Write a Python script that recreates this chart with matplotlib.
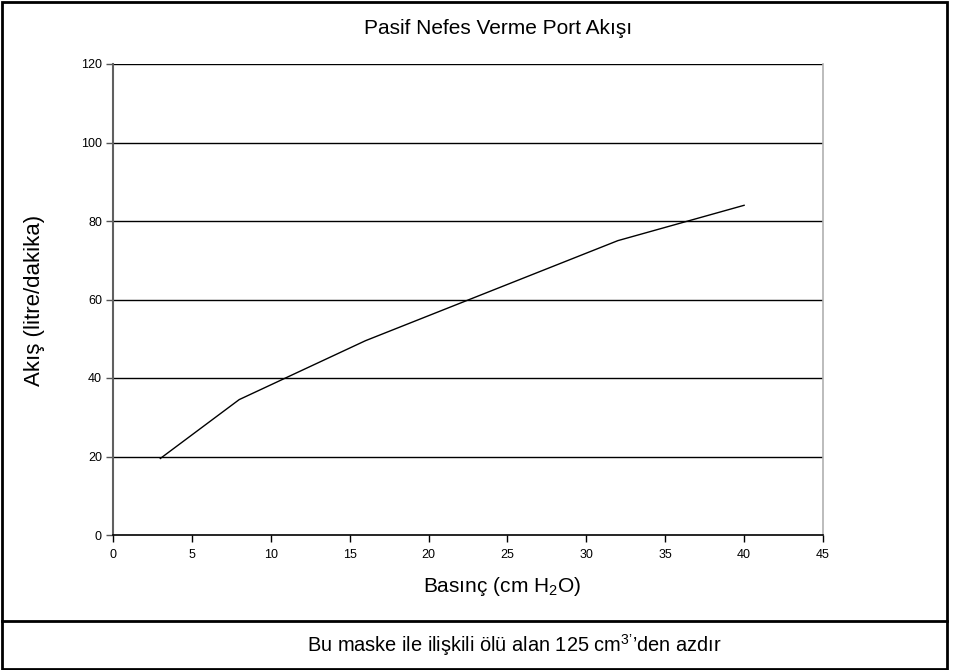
import matplotlib
matplotlib.use("Agg")
import matplotlib.pyplot as plt
from matplotlib.patches import Rectangle
from matplotlib.lines import Line2D

plt.rcParams['font.family'] = ['Liberation Sans', 'DejaVu Sans']
plt.rcParams['mathtext.fontset'] = 'custom'
plt.rcParams['mathtext.rm'] = 'Liberation Sans'
plt.rcParams['mathtext.it'] = 'Liberation Sans'
plt.rcParams['mathtext.bf'] = 'Liberation Sans:bold'

# pressure (cm H2O) vs. flow (litre/min)
basinc = [3, 8, 16, 32, 40]
akis = [19.5, 34.5, 49.5, 75, 84]
x_ticks = [0, 5, 10, 15, 20, 25, 30, 35, 40, 45]
y_ticks = [0, 20, 40, 60, 80, 100, 120]

W, H = 956, 670
fig = plt.figure(figsize=(W / 100, H / 100), dpi=100)
ax = fig.add_axes([113 / W, 1 - 535 / H, (823 - 113) / W, (535 - 64) / H])

for v in y_ticks[1:]:
    ax.axhline(v, color='black', lw=1.0, zorder=1)
ax.plot(basinc, akis, color='black', lw=1.0, zorder=3)

ax.set_xlim(0, 45)
ax.set_ylim(0, 120)
ax.set_xticks(x_ticks)
ax.set_yticks(y_ticks)
ax.tick_params(axis='both', labelsize=9, length=5, width=1.0, direction='out',
               colors='#555555', labelcolor='black', pad=3)
ax.tick_params(axis='x', colors='black', labelcolor='black', pad=5)

ax.spines['left'].set_color('#606060')
ax.spines['left'].set_linewidth(1.5)
ax.spines['bottom'].set_color('black')
ax.spines['bottom'].set_linewidth(1.2)
ax.spines['right'].set_color('#b0b0b0')
ax.spines['right'].set_linewidth(1.2)
ax.spines['top'].set_visible(False)

# titles and axis labels placed in figure pixels
fig.text(498 / W, 1 - 28 / H, 'Pasif Nefes Verme Port Akışı', fontsize=15,
         ha='center', va='center')
fig.text(502 / W, 1 - 586 / H, r'Basınç (cm H$\mathregular{_2}$O)', fontsize=15,
         ha='center', va='center')
fig.text(35 / W, 1 - 300 / H, 'Akış (litre/dakika)', fontsize=16,
         ha='center', va='center', rotation=90)
fig.text(514 / W, 1 - 645 / H,
         r"Bu maske ile ilişkili ölü alan 125 cm$^{\mathregular{3’}}$’den azdır",
         fontsize=14.4, ha='center', va='center')

# outer frame and footer separator
fig.patches.append(Rectangle((1.5 / W, 1 - 668.5 / H), 945 / W, 667 / H,
                             transform=fig.transFigure, fill=False,
                             edgecolor='black', lw=2))
fig.lines.append(Line2D([1.5 / W, 946.5 / W], [1 - 620.5 / H, 1 - 620.5 / H],
                        transform=fig.transFigure, color='black', lw=2))

fig.savefig('out.png', dpi=100)
